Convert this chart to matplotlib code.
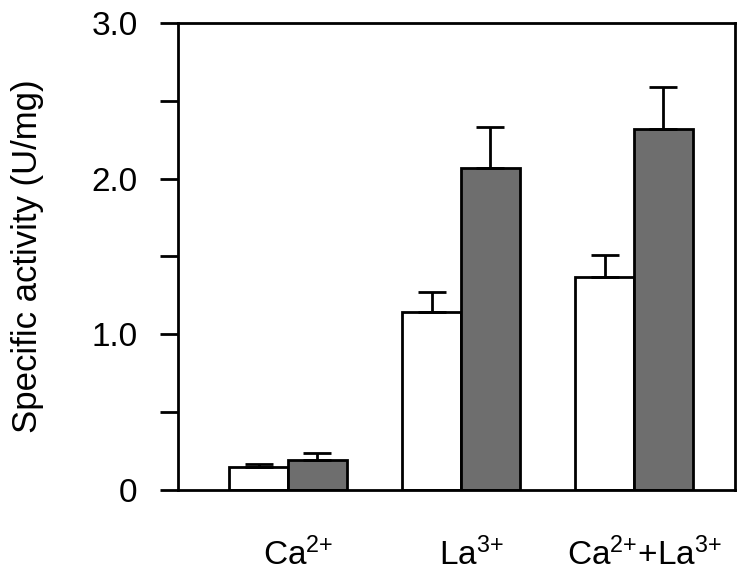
import matplotlib.pyplot as plt
import numpy as np

plt.rcParams['font.family'] = ['Liberation Sans', 'DejaVu Sans']
plt.rcParams['mathtext.default'] = 'regular'

categories = ["Ca$^{2{+}}$", "La$^{3{+}}$", "Ca$^{2{+}}$+La$^{3{+}}$"]
white_vals = [0.15, 1.14, 1.37]
white_err = [0.02, 0.13, 0.14]
gray_vals = [0.19, 2.07, 2.32]
gray_err = [0.05, 0.26, 0.27]

fig = plt.figure(figsize=(7.53, 5.73), dpi=100)
ax = fig.add_axes([0.2364, 0.1449, 0.7396, 0.8151])

x = np.arange(len(categories))
w = 0.34
ekw = dict(elinewidth=2, capthick=2, capsize=10, ecolor='black')
ax.bar(x - w / 2, white_vals, w, color='white', edgecolor='black', linewidth=2,
       yerr=[np.zeros(3), white_err], error_kw=ekw, zorder=2)
ax.bar(x + w / 2, gray_vals, w, color='#6e6e6e', edgecolor='black', linewidth=2,
       yerr=[np.zeros(3), gray_err], error_kw=ekw, zorder=2)

ax.set_xlim(-0.636, 2.584)
ax.set_ylim(0, 3.0)
ax.set_yticks(np.arange(0, 3.01, 0.5))
ax.set_yticklabels(["0", "", "1.0", "", "2.0", "", "3.0"])
ax.set_xticks(x + 0.06)
ax.set_xticklabels(categories)
ax.tick_params(axis='x', length=0, pad=34, labelsize=24)
ax.tick_params(axis='y', direction='out', length=13, width=2, labelsize=24, pad=16)
for s in ax.spines.values():
    s.set_linewidth(2)
ax.set_ylabel("Specific activity (U/mg)", fontsize=25, labelpad=34)

fig.savefig("out.png", dpi=100)
